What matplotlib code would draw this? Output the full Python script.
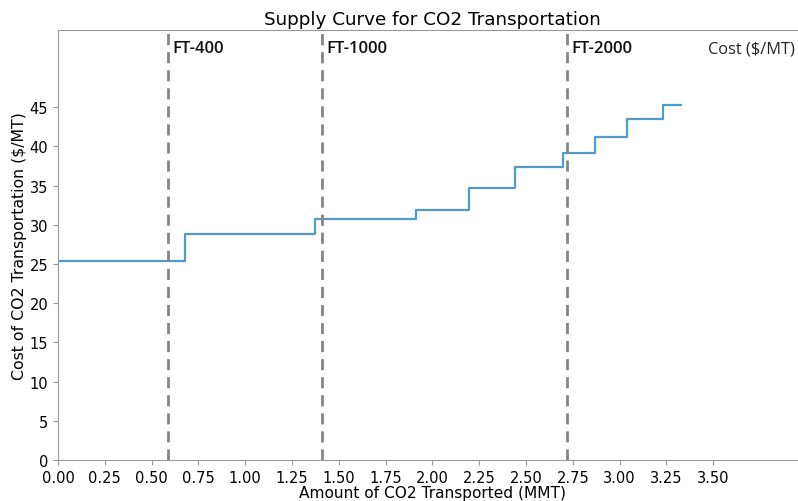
import matplotlib
matplotlib.use("Agg")
import matplotlib.pyplot as plt
import numpy as np

# Cumulative capacity edges (MMT) and step cost ($/MT)
capacity_edges = [0.0, 0.676, 1.373, 1.912, 2.193, 2.443, 2.699, 2.866, 3.038, 3.231, 3.33]
step_costs = [25.4, 28.8, 30.75, 31.85, 34.65, 37.4, 39.2, 41.25, 43.55, 45.3]

# Pipeline capacity markers
marker_x = [0.59, 1.41, 2.72]
marker_labels = ["FT-400", "FT-1000", "FT-2000"]

x_ticks = [0.00, 0.25, 0.50, 0.75, 1.00, 1.25, 1.50, 1.75, 2.00, 2.25, 2.50, 2.75, 3.00, 3.25, 3.50]
y_ticks = [0, 5, 10, 15, 20, 25, 30, 35, 40, 45]

fig = plt.figure(figsize=(7.98, 5.02), dpi=100)
ax = fig.add_axes([58/798, 41/502, 748.8/798, 430/502])

ys = step_costs + [step_costs[-1]]
ax.step(capacity_edges, ys, where="post", color="#4f9bd0", lw=1.6)

for xv, lab in zip(marker_x, marker_labels):
    ax.axvline(xv, color="#858585", lw=2, linestyle=(0, (4, 2.5)))
    ax.text(xv + 0.022, 52.5, lab, fontsize=12, fontweight="semibold",
            family=["Open Sans", "DejaVu Sans"], va="center", ha="left", color="#111111")

ax.text(3.47, 52.5, "Cost ($/MT)", fontsize=11.8, family=["Open Sans", "DejaVu Sans"],
        va="center", ha="left", color="#222222")

ax.set_xlim(0, 4.0)
ax.set_ylim(0, 54.85)
ax.set_xticks(x_ticks)
ax.set_xticklabels([f"{v:.2f}" for v in x_ticks])
ax.set_yticks(y_ticks)
ax.tick_params(labelsize=10.5, color="#999999", length=3.5)
for s in ax.spines.values():
    s.set_color("#999999")

ax.set_title("Supply Curve for CO2 Transportation", fontsize=13.2, pad=4)
ax.set_xlabel("Amount of CO2 Transported (MMT)", fontsize=11.1, labelpad=0)
ax.set_ylabel("Cost of CO2 Transportation ($/MT)", fontsize=11.3, labelpad=2)

fig.savefig("out.png", dpi=100)
